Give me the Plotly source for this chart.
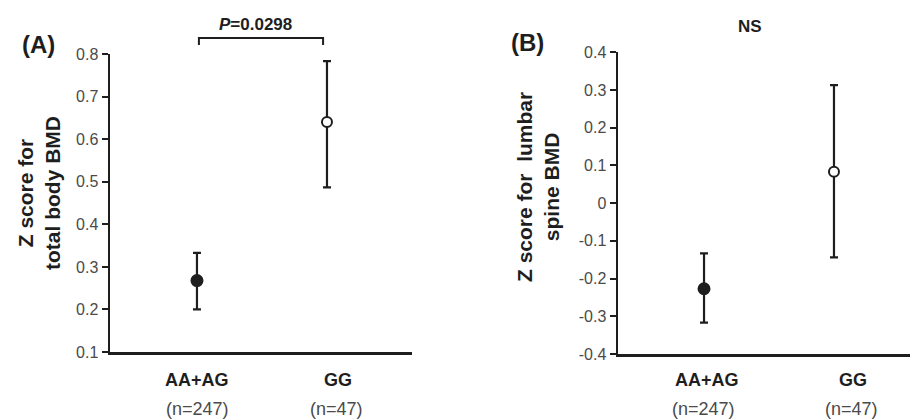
import plotly.graph_objects as go

groups = ["AA+AG", "GG"]
group_n = ["(n=247)", "(n=47)"]

# Panel A: Z score for total body BMD
a_mean = [0.268, 0.641]
a_upper = [0.333, 0.784]
a_lower = [0.200, 0.487]

# Panel B: Z score for lumbar spine BMD
b_mean = [-0.227, 0.083]
b_upper = [-0.133, 0.313]
b_lower = [-0.317, -0.144]

a_ticks = [0.1, 0.2, 0.3, 0.4, 0.5, 0.6, 0.7, 0.8]
b_ticks = [-0.4, -0.3, -0.2, -0.1, 0, 0.1, 0.2, 0.3, 0.4]
b_ticktext = ["-0.4", "-0.3", "-0.2", "-0.1", "0", "0.1", "0.2", "0.3", "0.4"]

DARK = "#1e1e1e"
GRAY = "#4a4a4a"
FONT = "Liberation Sans, Arial, sans-serif"

fig = go.Figure()

def add_panel(mean, upper, lower, xa, ya):
    plus = [u - m for u, m in zip(upper, mean)]
    minus = [m - l for m, l in zip(mean, lower)]
    for i, g in enumerate(groups):
        filled = i == 0
        fig.add_trace(go.Scatter(
            x=[g], y=[mean[i]], mode="markers",
            xaxis=xa, yaxis=ya, showlegend=False, hoverinfo="skip",
            error_y=dict(type="data", symmetric=False, array=[plus[i]],
                         arrayminus=[minus[i]], color=DARK, thickness=2.2, width=4),
            marker=dict(symbol="circle", size=11 if filled else 10,
                        color=DARK if filled else "white",
                        line=dict(color=DARK, width=2)),
        ))

add_panel(a_mean, a_upper, a_lower, "x", "y")
add_panel(b_mean, b_upper, b_lower, "x2", "y2")

xcommon = dict(type="category", categoryorder="array", categoryarray=groups,
               showticklabels=False, ticks="", showline=True, linecolor=DARK,
               linewidth=2.5, showgrid=False, zeroline=False, automargin=False)
ycommon = dict(showline=True, linecolor=DARK, linewidth=2.5, ticks="outside",
               ticklen=6, tickwidth=2, tickcolor=DARK, showgrid=False, zeroline=False,
               automargin=False, tickfont=dict(family=FONT, size=16, color=GRAY))

fig.update_layout(
    width=910, height=420,
    margin=dict(l=0, r=0, t=0, b=0, pad=0, autoexpand=False),
    paper_bgcolor="white", plot_bgcolor="white",
    xaxis=dict(domain=[110/910, 412/910], range=[-0.669, 1.654], anchor="y", **xcommon),
    yaxis=dict(domain=[1-352/420, 1-54.3/420], range=[0.1, 0.8], anchor="x",
               tickvals=a_ticks, ticktext=[f"{v:.1f}" for v in a_ticks], **ycommon),
    xaxis2=dict(domain=[618/910, 1.0], range=[-0.662, 1.585], anchor="y2", **xcommon),
    yaxis2=dict(domain=[1-354/420, 1-52.3/420], range=[-0.4, 0.4], anchor="x2",
                tickvals=b_ticks, ticktext=b_ticktext, **ycommon),
)

def note(text, x, y, size, color=DARK, angle=0, xref="paper", xshift=0):
    return dict(x=x, y=y, xref=xref, yref="paper", xanchor="center", yanchor="middle",
                xshift=xshift, text=text, showarrow=False, textangle=angle,
                font=dict(family=FONT, size=size, color=color))

ann = []
# category labels
shifts = {"x": ([0, 11], [1, 10]), "x2": ([3, 19], [-1, 18])}
for xr, (s1, s2) in shifts.items():
    for i, g in enumerate(groups):
        ann.append(note(f"<b>{g}</b>", g, 1-380/420, 18, DARK, xref=xr, xshift=s1[i]))
        ann.append(note(group_n[i], g, 1-409/420, 18, GRAY, xref=xr, xshift=s2[i]))

# y titles
ann.append(note("<b>Z score for<br>total body BMD</b>", 39/910, 1-193/420, 21, angle=-90))
ann.append(note("<b>Z score for  lumbar<br>spine BMD</b>", 538/910, 1-187/420, 21, angle=-90))
# panel letters
ann.append(note("<b>(A)</b>", 38/910, 1-45/420, 24))
ann.append(note("<b>(B)</b>", 527/910, 1-43/420, 24))
# significance
ann.append(note("<b><i>P</i>=0.0298</b>", 255/910, 1-24/420, 17))
ann.append(note("<b>NS</b>", 750/910, 1-26/420, 17))
fig.update_layout(annotations=ann)

# bracket
fig.add_shape(type="path", xref="x", yref="paper",
              path=f"M 0.015 {1-45/420} L 0.015 {1-38/420} L 0.97 {1-38/420} L 0.97 {1-45/420}",
              line=dict(color=DARK, width=2))

fig.write_html("out.html", config={"displayModeBar": False, "staticPlot": True},
               post_script="document.body.style.margin='0';document.body.style.overflow='hidden';")
